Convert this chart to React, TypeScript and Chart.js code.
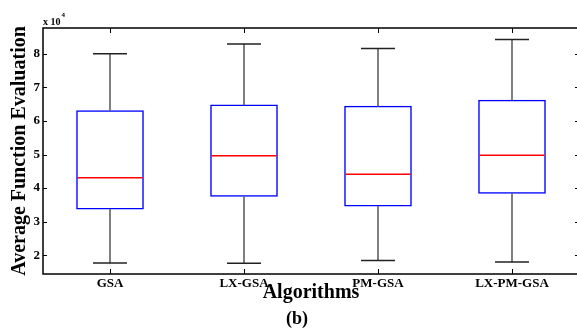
import React, { useEffect, useRef } from "react";
import { Chart, registerables } from "chart.js";

Chart.register(...registerables);

const categories = ["GSA", "LX-GSA", "PM-GSA", "LX-PM-GSA"];
const minValues = [17700, 17600, 18400, 18000];
const q1Values = [33750, 37500, 34600, 38400];
const medianValues = [43100, 49600, 44100, 49800];
const q3Values = [63100, 64800, 64400, 66200];
const maxValues = [80000, 82900, 81600, 84300];
const yTickValues = [20000, 30000, 40000, 50000, 60000, 70000, 80000];
const yMin = 14400;
const yMax = 87700;

const FONT = "'Liberation Serif', 'Times New Roman', serif";

const overlayPlugin = {
  id: "overlay",
  afterDraw(chart: any) {
    const { ctx, chartArea, scales } = chart;
    const { left, top, right, bottom } = chartArea;
    const x = scales.x;
    const y = scales.y;
    ctx.save();
    ctx.strokeStyle = "#000";
    ctx.lineWidth = 1;
    const line = (x1: number, y1: number, x2: number, y2: number) => {
      ctx.beginPath();
      ctx.moveTo(x1, y1);
      ctx.lineTo(x2, y2);
      ctx.stroke();
    };
    yTickValues.forEach((v) => {
      const py = Math.round(y.getPixelForValue(v)) + 0.5;
      line(left, py, left + 4, py);
      line(right - 4, py, right, py);
    });
    categories.forEach((_, i) => {
      const px = Math.round(x.getPixelForValue(i)) + 0.5;
      line(px, bottom, px, bottom - 5);
      line(px, top, px, top + 5);
    });
    ctx.lineWidth = 1.5;
    ctx.strokeRect(left, top, right - left, bottom - top);

    ctx.fillStyle = "#000";
    ctx.textBaseline = "alphabetic";
    ctx.textAlign = "left";
    ctx.font = `bold 10px ${FONT}`;
    ctx.fillText("x 10", left, 25);
    const w = ctx.measureText("x 10").width;
    ctx.font = `bold 7px ${FONT}`;
    ctx.fillText("4", left + w + 1, 17);

    ctx.font = `bold 18px ${FONT}`;
    ctx.textAlign = "center";
    ctx.fillText("(b)", 297, 324);
    ctx.restore();
  },
};

const zeroPadding = (s: any) => {
  s.paddingLeft = 0;
  s.paddingRight = 0;
  s.paddingTop = 0;
  s.paddingBottom = 0;
};

export default function App() {
  const ref = useRef<HTMLCanvasElement>(null);
  useEffect(() => {
    const pointLine = (data: number[], color: string, radius: number, width: number) => ({
      type: "line" as const,
      data,
      showLine: false,
      pointStyle: "line",
      pointRadius: radius,
      pointHoverRadius: radius,
      pointBorderColor: color,
      pointBackgroundColor: color,
      borderColor: color,
      pointBorderWidth: width,
      pointHoverBorderWidth: width,
      order: 0,
    });
    const chart = new Chart(ref.current!, {
      type: "bar",
      data: {
        labels: categories,
        datasets: [
          { ...pointLine(medianValues, "#ff0000", 32.5, 1.5), label: "Median" },
          { ...pointLine(maxValues, "#222222", 17, 1.5), label: "Max" },
          { ...pointLine(minValues, "#222222", 17, 1.5), label: "Min" },
          {
            type: "bar",
            label: "Box",
            data: q1Values.map((q, i) => [q, q3Values[i]]),
            backgroundColor: "#ffffff",
            borderColor: "#0000ff",
            borderWidth: 1.5,
            borderSkipped: false,
            barThickness: 67,
            grouped: false,
            order: 2,
          },
          {
            type: "bar",
            label: "Upper whisker",
            data: q3Values.map((q, i) => [q, maxValues[i]]),
            backgroundColor: "#666666",
            borderWidth: 0,
            barThickness: 1,
            grouped: false,
            order: 1,
          },
          {
            type: "bar",
            label: "Lower whisker",
            data: minValues.map((m, i) => [m, q1Values[i]]),
            backgroundColor: "#666666",
            borderWidth: 0,
            barThickness: 1,
            grouped: false,
            order: 1,
          },
        ] as any,
      },
      options: {
        responsive: false,
        animation: false,
        devicePixelRatio: 1,
        layout: { autoPadding: false, padding: { top: 28, right: 3, left: 0, bottom: 0 } },
        plugins: { legend: { display: false }, tooltip: { enabled: false } },
        scales: {
          x: {
            type: "category",
            offset: true,
            grid: { display: false, drawTicks: false },
            border: { display: false },
            ticks: {
              font: { family: FONT, size: 13, weight: "bold" },
              color: "#000",
              padding: 2,
              maxRotation: 0,
              autoSkip: false,
            },
            title: {
              display: true,
              text: "Algorithms",
              color: "#000",
              font: { family: FONT, size: 20, weight: "bold" },
              padding: { top: 0, bottom: 25 },
            },
            afterFit: (s: any) => {
              s.height = 56;
              zeroPadding(s);
            },
          },
          y: {
            type: "linear",
            min: yMin,
            max: yMax,
            grid: { display: false, drawTicks: false },
            border: { display: false },
            afterBuildTicks: (s: any) => {
              s.ticks = yTickValues.map((v) => ({ value: v }));
            },
            ticks: {
              callback: (v: any) => String(Number(v) / 10000),
              font: { family: FONT, size: 13, weight: "bold" },
              color: "#000",
              padding: 3,
            },
            title: {
              display: true,
              text: "Average Function Evaluation",
              color: "#000",
              font: { family: FONT, size: 20, weight: "bold" },
              padding: { top: 8, bottom: 0 },
            },
            afterFit: (s: any) => {
              s.width = 43;
              zeroPadding(s);
            },
          },
        },
      } as any,
      plugins: [overlayPlugin],
    });
    return () => chart.destroy();
  }, []);
  return (
    <div style={{ position: "fixed", left: 0, top: 0, width: 582, height: 330, background: "#fff" }}>
      <canvas ref={ref} width={582} height={330} style={{ display: "block" }} />
    </div>
  );
}
